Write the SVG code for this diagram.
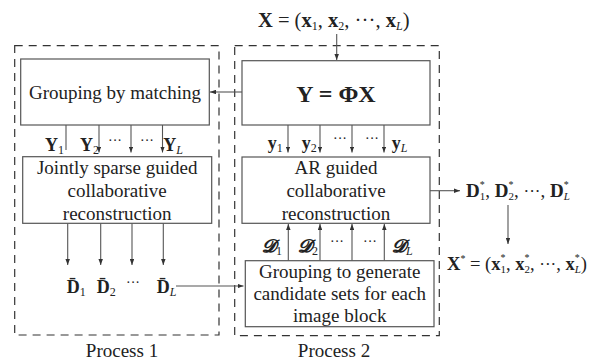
<svg xmlns="http://www.w3.org/2000/svg" width="597" height="362" viewBox="0 0 597 362" font-family="'Liberation Serif', 'Times New Roman', 'DejaVu Serif', serif">
<style>
text{fill:#222;}
.t{font-size:19px;text-anchor:middle;}
.m{font-size:18px;}
.b{font-weight:bold;}
.s{font-size:12px;font-weight:normal;}
.st{font-size:10px;font-weight:normal;}
.ss{font-size:11px;font-weight:normal;}
.i{font-style:italic;}
.dots{font-size:14px;}
.box{fill:#fff;stroke:#555;stroke-width:1.2;}
.dash{fill:none;stroke:#333;stroke-width:1.2;stroke-dasharray:8 6;}
.c{stroke:#555;stroke-width:1.1;fill:none;}
.ca{stroke:#555;stroke-width:1.1;fill:none;marker-end:url(#ah);}
</style>
<defs>
<marker id="ah" viewBox="0 0 8 6" refX="8" refY="3" markerWidth="6" markerHeight="4.5" markerUnits="userSpaceOnUse" orient="auto">
<path d="M0,0 L8,3 L0,6 z" fill="#333"/>
</marker>
</defs>
<rect width="597" height="362" fill="#fff"/>
<g id="process1">
<rect class="dash" x="14.7" y="45.7" width="204.3" height="289.3"/>
<text class="t" x="122" y="357">Process 1</text>
</g>
<g id="process2">
<rect class="dash" x="234.7" y="45.7" width="204.6" height="290"/>
<text class="t" x="334" y="357">Process 2</text>
</g>
<g id="connectors">
<line class="ca" x1="336.7" y1="34" x2="336.7" y2="60"/>
<line class="ca" x1="242" y1="92" x2="210" y2="92"/>
<line class="c" x1="66" y1="125" x2="66" y2="150"/>
<line class="ca" x1="99" y1="125" x2="99" y2="152.5"/>
<line class="ca" x1="131" y1="125" x2="131" y2="152.5"/>
<line class="ca" x1="162.5" y1="125" x2="162.5" y2="152.5"/>
<line class="ca" x1="288" y1="125" x2="288" y2="152.5"/>
<line class="ca" x1="320" y1="125" x2="320" y2="152.5"/>
<line class="ca" x1="352" y1="125" x2="352" y2="152.5"/>
<line class="ca" x1="384" y1="125" x2="384" y2="152.5"/>
<line class="ca" x1="67.7" y1="223.3" x2="67.7" y2="265"/>
<line class="ca" x1="100.7" y1="223.3" x2="100.7" y2="265"/>
<line class="ca" x1="132" y1="223.3" x2="132" y2="265"/>
<line class="ca" x1="163.3" y1="223.3" x2="163.3" y2="265"/>
<line class="ca" x1="288.3" y1="260.7" x2="288.3" y2="224"/>
<line class="ca" x1="320" y1="260.7" x2="320" y2="224"/>
<line class="ca" x1="352" y1="260.7" x2="352" y2="224"/>
<line class="ca" x1="384.3" y1="260.7" x2="384.3" y2="224"/>
<line class="ca" x1="176" y1="286" x2="243.5" y2="286"/>
<line class="ca" x1="430" y1="190.7" x2="460" y2="190.7"/>
<line class="ca" x1="508" y1="205" x2="508" y2="244"/>
</g>
<g id="labels">
<text x="258" y="27" style="font-size:20.5px"><tspan class="b">X</tspan> = (<tspan class="b">x</tspan><tspan class="s" dy="3">1</tspan><tspan dy="-3">, </tspan><tspan class="b">x</tspan><tspan class="s" dy="3">2</tspan><tspan dy="-3">, </tspan><tspan style="font-size:21px">···</tspan>, <tspan class="b">x</tspan><tspan class="s i" dy="3">L</tspan><tspan dy="-3">)</tspan></text>
<text class="m" x="45" y="151"><tspan class="b">Y</tspan><tspan class="s" dy="3">1</tspan></text>
<text class="m" x="80" y="151"><tspan class="b">Y</tspan><tspan class="s" dy="3">2</tspan></text>
<text class="dots" x="108" y="145">···</text>
<text class="dots" x="140" y="145">···</text>
<text class="m" x="163.3" y="151"><tspan class="b">Y</tspan><tspan class="s i" dy="3">L</tspan></text>
<text class="m" x="267.7" y="149"><tspan class="b">y</tspan><tspan class="s" dy="3">1</tspan></text>
<text class="m" x="301.7" y="149"><tspan class="b">y</tspan><tspan class="s" dy="3">2</tspan></text>
<text class="dots" x="333" y="143">···</text>
<text class="dots" x="365" y="143">···</text>
<text class="m" x="391.7" y="149"><tspan class="b">y</tspan><tspan class="s i" dy="3">L</tspan></text>
<text class="m" x="262" y="252"><tspan class="b i">𝓓</tspan><tspan class="s" dy="3">1</tspan></text>
<text class="m" x="298" y="252"><tspan class="b i">𝓓</tspan><tspan class="s" dy="3">2</tspan></text>
<text class="dots" x="330" y="246">···</text>
<text class="dots" x="363" y="246">···</text>
<text class="m" x="392" y="252"><tspan class="b i">𝓓</tspan><tspan class="s i" dy="3">L</tspan></text>
<text class="m" x="66.7" y="293"><tspan class="b">D̄</tspan><tspan class="s" dy="3">1</tspan></text>
<text class="m" x="96.7" y="293"><tspan class="b">D̄</tspan><tspan class="s" dy="3">2</tspan></text>
<text class="dots" x="126" y="287">···</text>
<text class="m" x="156.7" y="293"><tspan class="b">D̄</tspan><tspan class="s i" dy="3">L</tspan></text>
<text x="466" y="197" style="font-size:19px"><tspan class="b">D</tspan><tspan class="st" dy="-9">*</tspan><tspan class="ss" dx="-5" dy="12">1</tspan><tspan dy="-3">, </tspan><tspan class="b">D</tspan><tspan class="st" dy="-9">*</tspan><tspan class="ss" dx="-5" dy="12">2</tspan><tspan dy="-3">, </tspan><tspan style="font-size:17px">···</tspan>, <tspan class="b">D</tspan><tspan class="st" dy="-9">*</tspan><tspan class="ss i" dx="-5" dy="12">L</tspan></text>
<text x="447" y="270" style="font-size:18.5px"><tspan class="b">X</tspan><tspan class="st" dy="-8">*</tspan><tspan dy="8"> = (</tspan><tspan class="b">x</tspan><tspan class="st" dy="-9">*</tspan><tspan class="ss" dx="-5" dy="12">1</tspan><tspan dy="-3">, </tspan><tspan class="b">x</tspan><tspan class="st" dy="-9">*</tspan><tspan class="ss" dx="-5" dy="12">2</tspan><tspan dy="-3">, </tspan><tspan style="font-size:17px">···</tspan>, <tspan class="b">x</tspan><tspan class="st" dy="-9">*</tspan><tspan class="ss i" dx="-5" dy="12">L</tspan><tspan dy="-3">)</tspan></text>
</g>
<g id="grouping-matching">
<rect class="box" x="20.7" y="59" width="188.6" height="66"/>
<text class="t" x="115" y="99">Grouping by matching</text>
</g>
<g id="phi-measure">
<rect class="box" x="242" y="60.7" width="188" height="64.3"/>
<text class="t b" x="336" y="102" style="font-size:24px">Y = ΦX</text>
</g>
<g id="jointly-sparse">
<rect class="box" x="22.7" y="156.7" width="189" height="66.6"/>
<text class="t" x="117.2" y="173.5">Jointly sparse guided</text>
<text class="t" x="117.2" y="196.7">collaborative</text>
<text class="t" x="117.2" y="220">reconstruction</text>
</g>
<g id="ar-guided">
<rect class="box" x="242" y="157" width="188" height="66.3"/>
<text class="t" x="336" y="173.5">AR guided</text>
<text class="t" x="336" y="196.7">collaborative</text>
<text class="t" x="336" y="220">reconstruction</text>
</g>
<g id="grouping-candidates">
<rect class="box" x="245.3" y="260.7" width="188.7" height="66"/>
<text class="t" x="339.7" y="278">Grouping to generate</text>
<text class="t" x="339.7" y="300.3">candidate sets for each</text>
<text class="t" x="339.7" y="322">image block</text>
</g>
</svg>
